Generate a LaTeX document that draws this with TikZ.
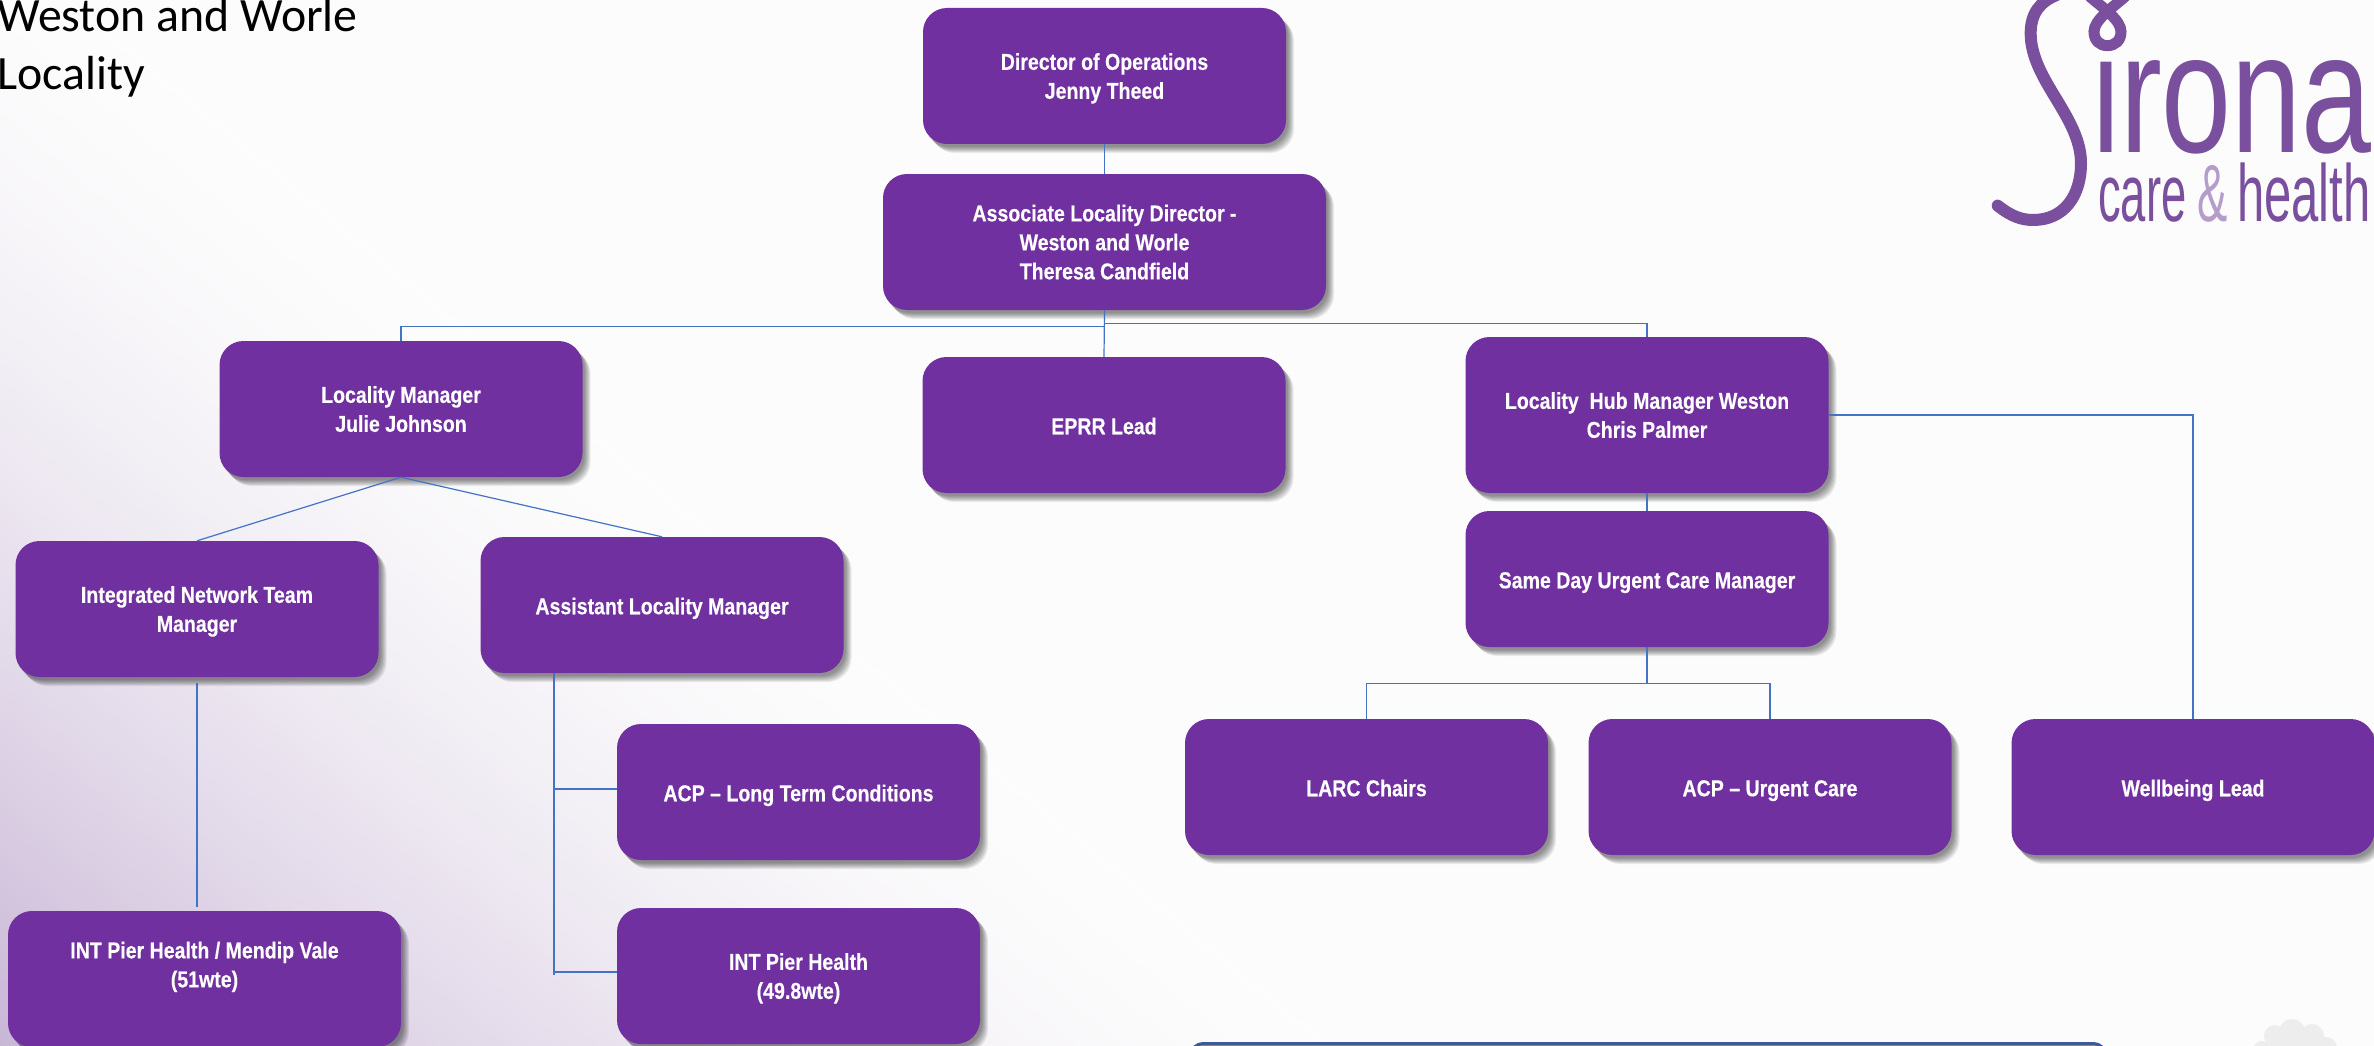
\documentclass[tikz,border=0pt]{standalone}
\usepackage{fontspec}
\usetikzlibrary{shadows,calc}
\setmainfont{Liberation Sans}
\newfontfamily\boxfont[FakeStretch=0.85,FakeBold=0.25]{Liberation Sans}
\newfontfamily\titlefont{Carlito}
\newfontfamily\logoA[FakeStretch=0.735]{Liberation Sans}
\newfontfamily\logoB[FakeStretch=0.56]{Liberation Sans}
\newfontfamily\logoC[FakeStretch=0.605]{Liberation Sans}
\definecolor{boxpurple}{HTML}{7030A0}
\definecolor{linkblue}{HTML}{4472C4}
\definecolor{logopurple}{HTML}{7A4F9E}
\definecolor{logolight}{HTML}{B59DCB}
\definecolor{barblue}{HTML}{3A5A9A}
\definecolor{barorange}{HTML}{D9783A}
\tikzset{
  softshadow/.style={drop shadow={shadow xshift=#1pt,shadow yshift=-#1pt-1pt,opacity=.075,fill=black}},
  orgbox/.style={
    shape=rectangle, rounded corners=24pt, fill=boxpurple, text=white, align=center,
    inner sep=0pt, minimum width=363pt, minimum height=136pt, text depth=6pt,
    font=\boxfont\bfseries\fontsize{23}{29}\selectfont,
    execute at begin node={\rule{0pt}{24.5pt}},
    softshadow=8,softshadow=7,softshadow=6,softshadow=5,softshadow=4,softshadow=3,softshadow=2},
  multiline/.style={text depth=-1pt},
  link/.style={draw=linkblue, line width=1.2pt},
  logostroke/.style={draw=logopurple, line width=12pt, line cap=round}
}
\begin{document}
\begin{tikzpicture}[x=1pt,y=-1pt]
\useasboundingbox (0,0) rectangle (2374,1046);
\clip (0,0) rectangle (2374,1046);
% background gradient, from the lower left corner
\fill[white!99!black] (0,0) rectangle (2374,1046);
\foreach \d in {850,844,...,0}{
  \pgfmathsetmacro{\q}{(1-\d/850)^1.6}
  \pgfmathtruncatemacro{\rr}{253-53*\q}
  \pgfmathtruncatemacro{\gg}{253-71*\q}
  \pgfmathtruncatemacro{\bb}{253-39*\q}
  \fill[fill={rgb,255:red,\rr;green,\gg;blue,\bb},shift={(0pt,-1046pt)},rotate=-39.7] (-3000,-\d) rectangle (3000,3000);
}
% title
\node[anchor=base west,inner sep=0pt,font=\titlefont\fontsize{47.8}{58}\selectfont,align=left] (title) at (-3,90) {Weston and Worle\\Locality};
% boxes
\node[orgbox,multiline] (dir) at (1104.5,76) {Director of Operations\\Jenny Theed};
\node[orgbox,multiline,minimum width=443pt] (assoc) at (1104.5,242) {Associate Locality Director -\\Weston and Worle\\Theresa Candfield};
\node[orgbox,multiline] (lm) at (401,409) {Locality Manager\\Julie Johnson};
\node[orgbox] (eprr) at (1104,425) {EPRR Lead};
\node[orgbox,multiline,minimum height=156pt] (hub) at (1647,415) {Locality\ \ Hub Manager Weston\\Chris Palmer};
\node[orgbox,multiline] (intm) at (197,609) {Integrated Network Team\\Manager};
\node[orgbox] (asst) at (662,605) {Assistant Locality Manager};
\node[orgbox] (same) at (1647,579) {Same Day Urgent Care Manager};
\node[orgbox] (acpl) at (798.5,792) {ACP – Long Term Conditions};
\node[orgbox] (larc) at (1366.5,787) {LARC Chairs};
\node[orgbox] (acpu) at (1770,787) {ACP – Urgent Care};
\node[orgbox] (well) at (2193,787) {Wellbeing Lead};
\node[orgbox,multiline,minimum width=393pt] (mendip) at (204.5,979) {INT Pier Health / Mendip Vale\\(51wte)\\\strut};
\node[orgbox,multiline] (ipier) at (798.5,976) {INT Pier Health\\(49.8wte)};
% connectors
\draw[link] (dir.south) -- (assoc.north);
\draw[link] (assoc.south) -- ++(0,16) -| (lm.north);
\draw[link] (assoc.south) -- ++(0,13) -| (hub.north);
\draw[link] (assoc.south) -- (eprr.north);
\draw[link] (lm.south) -- (intm.north);
\draw[link] (lm.south) -- (asst.north);
\draw[link] (hub.south) -- (same.north);
\draw[link] (hub.east) -| (well.north);
\draw[link] (same.south) -- ++(0,36) -| (larc.north);
\draw[link] (same.south) -- ++(0,36) -| (acpu.north);
\draw[link,shorten <=6pt,shorten >=4pt] (intm.south) -- (intm.south |- mendip.north);
\coordinate (trunktop) at (554,673);
\coordinate (trunkend) at (554,975);
\coordinate (jl) at (554,789);
\coordinate (jp) at (554,972);
\draw[link] (trunktop) -- (trunkend);
\draw[link] (jl) -- (jl -| acpl.west);
\draw[link] (jp) -- (jp -| ipier.west);
% bottom box, cut by the page edge
\draw[draw=barblue,fill=barorange,line width=3pt,rounded corners=12pt] (1191,1043.5) rectangle (2105.5,1100);
% cloud
\fill[black!7!white] (2262,1050) circle (9) (2275,1036) circle (11) (2292,1032) circle (13) (2312,1036) circle (12) (2326,1048) circle (11) (2297,1050) circle (18);
% logo
\node[anchor=base west,inner sep=0pt,text=logopurple,font=\logoA\fontsize{171}{171}\selectfont] (wordmark) at (2092,153) {irona};
\node[anchor=base west,inner sep=0pt,text=logopurple,font=\logoB\fontsize{81}{81}\selectfont] (care) at (2098,221) {care};
\node[anchor=base west,inner sep=0pt,text=logolight,font=\logoB\fontsize{81}{81}\selectfont] (amp) at (2197,221) {\&};
\node[anchor=base west,inner sep=0pt,text=logopurple,font=\logoC\fontsize{81}{81}\selectfont] (health) at (2237,221) {health};
\begin{scope}[shift={(1950pt,0pt)},x=.3333pt,y=-.3333pt]
\draw[logostroke] (143,617) .. controls (185,650) and (215,660) .. (250,660) .. controls (340,660) and (393,590) .. (393,490) .. controls (393,350) and (242,240) .. (242,100) .. controls (242,40) and (270,5) .. (320,-15);
\draw[logostroke,line width=11pt,fill=white!99!black] (525,-10) .. controls (485,25) and (432,60) .. (432,95) .. controls (432,122) and (450,137) .. (472,137) .. controls (495,137) and (513,122) .. (513,95) .. controls (513,60) and (460,25) .. (420,-10);
\end{scope}
\end{tikzpicture}
\end{document}
